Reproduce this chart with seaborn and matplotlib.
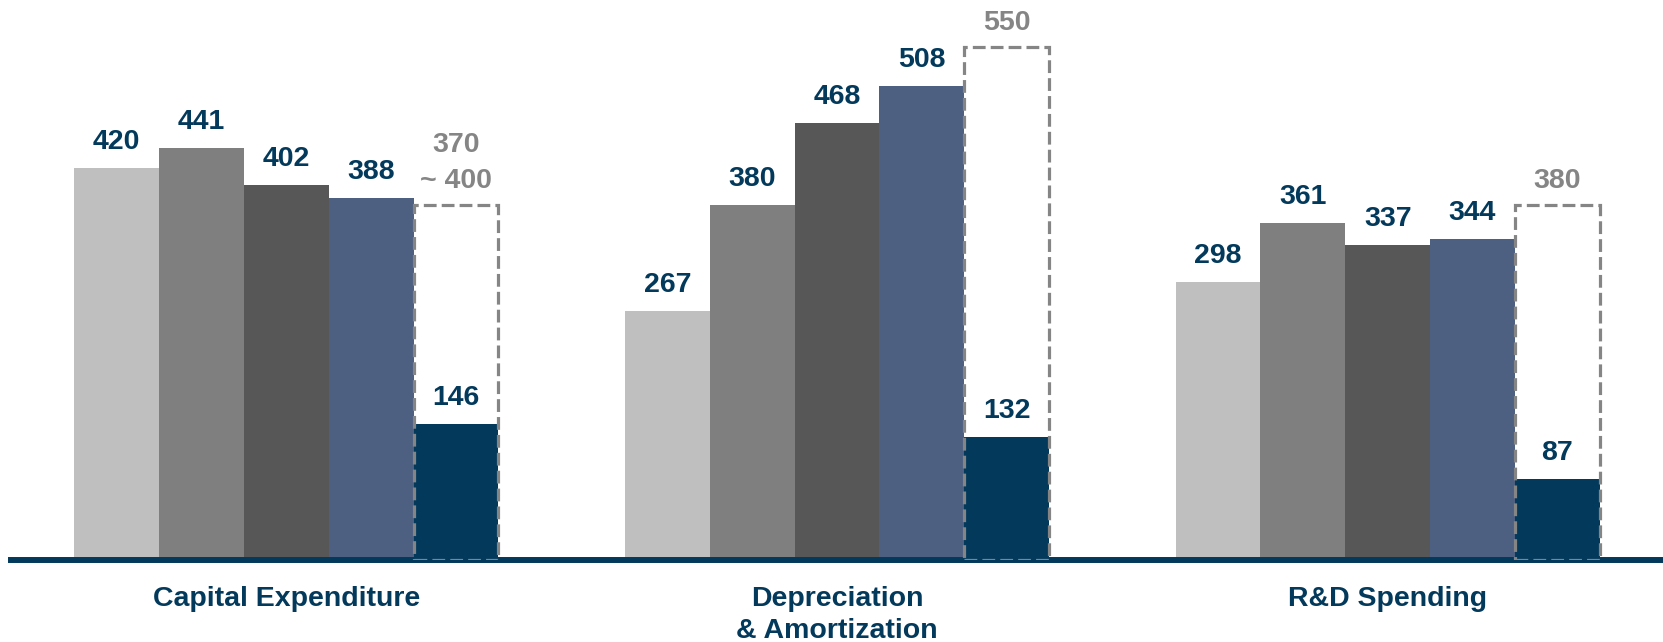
import matplotlib
matplotlib.use("Agg")
import matplotlib.pyplot as plt
import seaborn as sns
import pandas as pd

categories = ["Capital Expenditure", "Depreciation\n& Amortization", "R&D Spending"]
series = ["Year 1", "Year 2", "Year 3", "Year 4", "Year 5 YTD"]
year1 = [420, 267, 298]
year2 = [441, 380, 361]
year3 = [402, 468, 337]
year4 = [388, 508, 344]
year5_ytd = [146, 132, 87]
year5_target = [380, 550, 380]
target_labels = ["370\n~ 400", "550", "380"]

colors = ["#bfbfbf", "#7f7f7f", "#575757", "#4d6082", "#033a5c"]
navy = "#033a5c"
gray = "#858585"

sns.set_theme(style="white")
plt.rcParams["font.family"] = ["Liberation Sans", "DejaVu Sans"]

rows = []
for s, vals in zip(series, [year1, year2, year3, year4, year5_ytd]):
    for c, v in zip(categories, vals):
        rows.append({"category": c, "series": s, "value": v})
df = pd.DataFrame(rows)

fig = plt.figure(figsize=(16.63, 6.42), dpi=100)
ax = fig.add_axes([11 / 1663, 82 / 642, 1 - 11 / 1663, 560 / 642])

sns.barplot(data=df, x="category", y="value", hue="series", order=categories,
            hue_order=series, palette=colors, saturation=1, width=0.77,
            linewidth=0, legend=False, ax=ax)

ax.set_xlim(-0.5, 2.5)
ax.set_ylim(0, 600)

for cont in ax.containers:
    ax.bar_label(cont, padding=9.5, color=navy, fontsize=20.5, fontweight="bold")

last = ax.containers[4]
xs = [p.get_x() + p.get_width() / 2 for p in last]
w = last[0].get_width()
boxes = ax.bar(xs, year5_target, width=w, fill=False, edgecolor=gray,
               linewidth=2.3, linestyle=(0, (4, 1.6)), zorder=5)
txts = ax.bar_label(boxes, labels=target_labels, padding=8, color=gray,
                    fontsize=20.5, fontweight="bold")
for t in txts:
    t.set_linespacing(1.5)

for s in ["top", "right", "left"]:
    ax.spines[s].set_visible(False)
ax.spines["bottom"].set_color(navy)
ax.spines["bottom"].set_linewidth(4.3)
ax.spines["bottom"].set_zorder(4)

ax.set_yticks([])
ax.set_xlabel("")
ax.set_ylabel("")
ax.tick_params(axis="x", length=0, pad=19)
ax.set_xticks(range(len(categories)))
ax.set_xticklabels(categories, color=navy, fontsize=20.5, fontweight="bold")
for lab in ax.get_xticklabels():
    lab.set_linespacing(1.27)

fig.savefig("out.png", dpi=100)
